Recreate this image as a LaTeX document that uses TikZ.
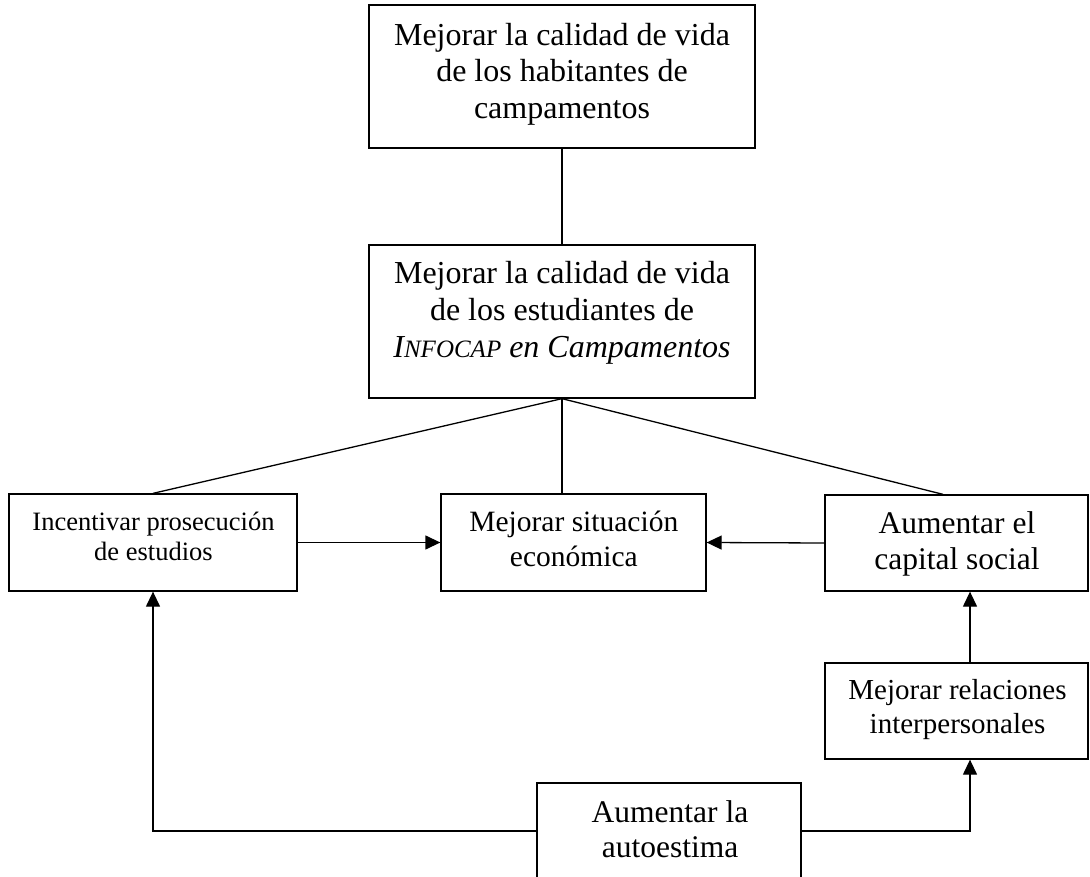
\documentclass[tikz,border=0pt]{standalone}
\usepackage{fontspec}
\setmainfont{Liberation Serif}
\usetikzlibrary{arrows.meta}
\tikzset{
  box/.style={draw, line width=1.3pt, inner sep=0pt},
  lbl/.style={anchor=north, inner sep=0pt, align=center},
  conn/.style={line width=1.3pt},
  arr/.style={line width=1.3pt, -{Triangle[length=15pt,width=14pt]}},
}
\newcommand{\ts}{\rule{0pt}{0.9em}}
\begin{document}
\begin{tikzpicture}[x=1pt,y=-1pt]
\useasboundingbox (0,0) rectangle (1090,877);
% boxes
\node[box, minimum width=386pt, minimum height=143pt] (top) at (562,76.5) {};
\node[box, minimum width=386pt, minimum height=153pt] (mid) at (562,321.5) {};
\node[box, minimum width=288pt, minimum height=97pt] (inc) at (153,542.5) {};
\node[box, minimum width=265pt, minimum height=97pt] (eco) at (573.5,542.5) {};
\node[box, minimum width=263pt, minimum height=96pt] (cap) at (956.5,543) {};
\node[box, minimum width=263pt, minimum height=96pt] (rel) at (956.5,711) {};
\node[box, minimum width=264pt, minimum height=110pt] (auto) at (669,838) {};
% texts
\node[lbl, font=\fontsize{32}{36.5}\selectfont] (toptext) at (562,16.2)
  {\ts Mejorar la calidad de vida\\de los habitantes de\\campamentos};
\node[lbl, font=\fontsize{32}{37}\selectfont] (midtext) at (562,254.2)
  {\ts Mejorar la calidad de vida\\de los estudiantes de\\{\itshape I{\fontsize{25}{37}\selectfont NFOCAP} en Campamentos}};
\node[lbl, font=\fontsize{26.5}{30}\selectfont] (inctext) at (153.5,506.85)
  {\ts Incentivar prosecución\\de estudios};
\node[lbl, font=\fontsize{29.5}{34.3}\selectfont] (ecotext) at (573.8,505.15)
  {\ts Mejorar situación\\económica};
\node[lbl, font=\fontsize{31.5}{36}\selectfont] (captext) at (957,504.95)
  {\ts Aumentar el\\capital social};
\node[lbl, font=\fontsize{29}{34}\selectfont] (reltext) at (957.5,672.9)
  {\ts Mejorar relaciones\\interpersonales};
\node[lbl, font=\fontsize{31.5}{35}\selectfont] (autotext) at (670,793.65)
  {\ts Aumentar la\\autoestima};
% connectors
\coordinate (ay) at (0,831);
\draw[conn] (top.south) -- (mid.north);
\draw[conn] (mid.south) -- (inc.north);
\draw[conn] (mid.south) -- (mid.south |- eco.north);
\draw[conn] (mid.south) -- ([xshift=-13.5pt]cap.north);
\draw[arr] (inc.east) -- (eco.west);
\draw[arr] (cap.west) -- (eco.east);
\draw[arr] ([xshift=13.5pt]rel.north) -- ([xshift=13.5pt]cap.south);
\draw[arr] (auto.east |- ay) -| ([xshift=13.5pt]rel.south);
\draw[arr] (auto.west |- ay) -| (inc.south);
\end{tikzpicture}
\end{document}
